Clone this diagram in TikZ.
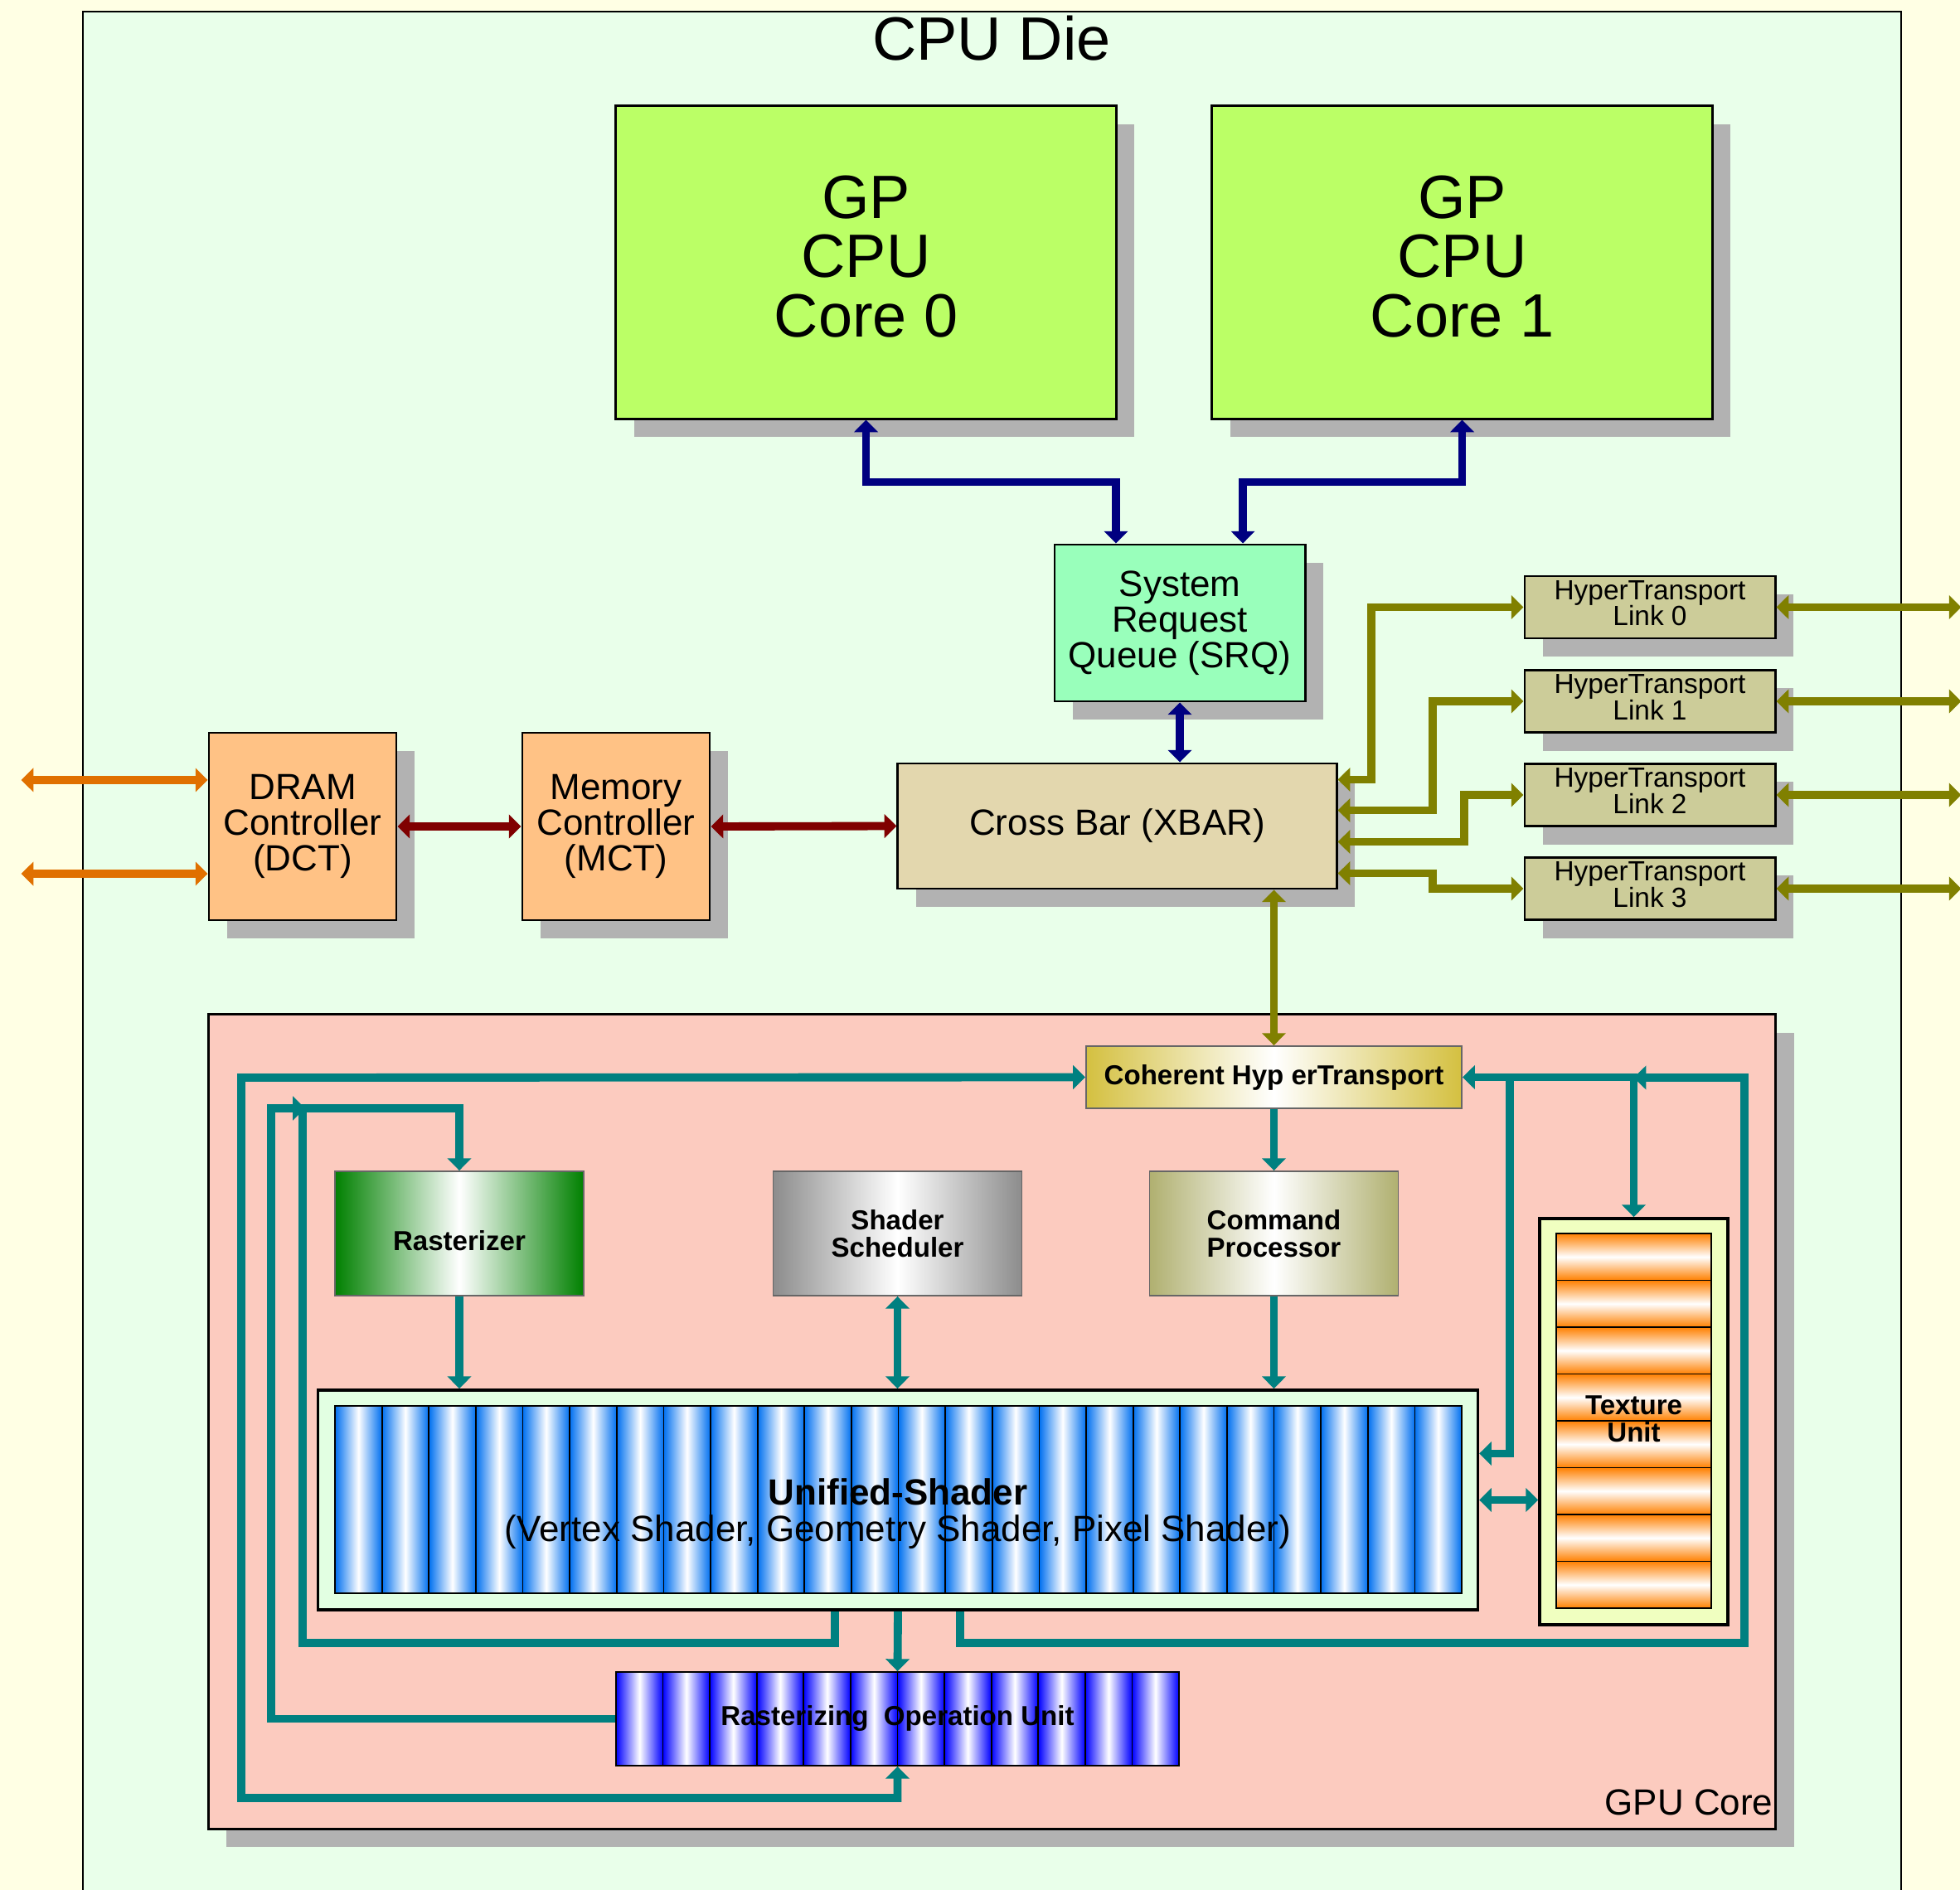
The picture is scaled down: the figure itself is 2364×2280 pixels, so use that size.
\documentclass[tikz,border=0pt]{standalone}
\usepackage{fontspec}
\setmainfont{Liberation Sans}
\usetikzlibrary{arrows.meta, shadows}

\definecolor{bgyellow}{HTML}{FFFFE4}
\definecolor{diegreen}{HTML}{E9FFEA}
\definecolor{corelime}{HTML}{BBFF66}
\definecolor{srqgreen}{HTML}{99FFBB}
\definecolor{xbartan}{HTML}{E3D7AE}
\definecolor{memorange}{HTML}{FFC285}
\definecolor{htkhaki}{HTML}{CCCC99}
\definecolor{gpusalmon}{HTML}{FCCBBF}
\definecolor{shadowgray}{HTML}{B2B2B2}
\definecolor{ushbg}{HTML}{E2FFE2}
\definecolor{texbg}{HTML}{F0FFC0}
\definecolor{texorange}{HTML}{FF8000}
\definecolor{shblue}{HTML}{0070F0}
\definecolor{ropblue}{HTML}{0000FF}
\definecolor{rastgreen}{HTML}{008000}
\definecolor{schedgray}{HTML}{8C8C8C}
\definecolor{cmdolive}{HTML}{B0B070}
\definecolor{chtgold}{HTML}{D4C040}
\definecolor{linknavy}{HTML}{000080}
\definecolor{linkolive}{HTML}{808000}
\definecolor{linkred}{HTML}{800000}
\definecolor{linkorange}{HTML}{E07000}
\definecolor{linkteal}{HTML}{008080}

\newcommand{\corefont}{\fontsize{21}{20.4}\selectfont}
\newcommand{\blockfont}{\fontsize{12.5}{12.3}\selectfont}
\newcommand{\htfont}{\fontsize{9.5}{9}\selectfont}
\newcommand{\unitlabelfont}{\bfseries\fontsize{9.4}{9.4}\selectfont}

\begin{document}
\begin{tikzpicture}[
  x=0.01cm, y=-0.01cm,
  box/.style      = {draw, line width=0.8pt, align=center, inner sep=1pt},
  shadowed/.style = {drop shadow={shadow xshift=0.22cm, shadow yshift=-0.22cm,
                     opacity=1, fill=shadowgray}},
  corebox/.style  = {box, shadowed, fill=corelime, font=\corefont, text depth=0.15cm,
                     minimum width=6.03cm, minimum height=3.77cm},
  htbox/.style    = {box, shadowed, fill=htkhaki, font=\htfont, text depth=0.1cm,
                     minimum width=3.02cm, minimum height=0.75cm},
  unitbox/.style  = {draw=black!60, line width=0.5pt, align=center, inner sep=1pt,
                     font=\unitlabelfont, minimum width=3.0cm, minimum height=1.5cm},
  ustrip/.style   = {draw, line width=0.5pt, left color=shblue, right color=shblue,
                     middle color=white},
  rstrip/.style   = {draw, line width=0.5pt, left color=ropblue, right color=ropblue,
                     middle color=white},
  tstrip/.style   = {draw, line width=0.5pt, top color=texorange, bottom color=texorange,
                     middle color=white},
  wire/.style     = {line width=2.8pt, -{Triangle[width=8pt, length=4.2pt]}},
  biwire/.style   = {line width=2.8pt,
                     {Triangle[width=8pt, length=4.2pt]}-{Triangle[width=8pt, length=4.2pt]}}
]

%--------------------------------------------------
% Page and die
%--------------------------------------------------
\useasboundingbox (0,0) rectangle (2364,2280);
\fill[bgyellow] (0,0) rectangle (2364,2280);
\draw[fill=diegreen, line width=0.8pt] (100,14) rectangle (2293,2320);
\node[font=\corefont, anchor=base] (dielabel) at (1196,73) {CPU Die};

%--------------------------------------------------
% CPU side blocks
%--------------------------------------------------
\node[corebox] (core0) at (1044.5,316.5) {GP\\CPU\\Core 0};
\node[corebox] (core1) at (1763.5,316.5) {GP\\CPU\\Core 1};

\node[box, shadowed, fill=srqgreen, font=\blockfont,
      minimum width=3.02cm, minimum height=1.89cm] (srq) at (1423,751.5)
  {System\\Request\\Queue (SRQ)};

\node[box, shadowed, fill=xbartan, font=\blockfont,
      minimum width=5.29cm, minimum height=1.51cm] (xbar) at (1347.5,996.5)
  {Cross Bar (XBAR)};

\node[box, shadowed, fill=memorange, font=\blockfont,
      minimum width=2.26cm, minimum height=2.26cm] (dct) at (365,997)
  {DRAM\\Controller\\(DCT)};
\node[box, shadowed, fill=memorange, font=\blockfont,
      minimum width=2.26cm, minimum height=2.26cm] (mct) at (743,997)
  {Memory\\Controller\\(MCT)};

% HyperTransport links
\foreach \k/\y in {0/732.5, 1/846, 2/959, 3/1072}
  \node[htbox] (ht\k) at (1990,\y) {HyperTransport\\Link \k};

%--------------------------------------------------
% GPU core
%--------------------------------------------------
\node[box, shadowed, fill=gpusalmon,
      minimum width=18.89cm, minimum height=9.82cm] (gpu) at (1196.5,1715) {};
\node[font=\blockfont, anchor=base east, inner sep=0pt] (gpulabel) at (2139,2189) {GPU Core};

\node[unitbox, left color=chtgold, right color=chtgold, middle color=white,
      minimum width=4.53cm, minimum height=0.75cm] (cht) at (1536.5,1299.5)
  {Coherent Hyp erTransport};

\node[unitbox, left color=rastgreen, right color=rastgreen, middle color=white,
      text height=0.42cm] (rast) at (554,1488) {Rasterizer};
\node[unitbox, left color=schedgray, right color=schedgray, middle color=white]
  (sched) at (1082.5,1488) {Shader\\Scheduler};
\node[unitbox, left color=cmdolive, right color=cmdolive, middle color=white]
  (cmdp) at (1536.5,1488) {Command\\Processor};

% unified shader array
\node[draw, line width=1pt, fill=ushbg,
      minimum width=13.98cm, minimum height=2.65cm] (ushader) at (1083,1809.5) {};
\foreach \i in {0,...,23}
  \draw[ustrip] ({404+\i*56.625},1696) rectangle ++(56.625,226);
\node[align=center, font=\blockfont] (ushlabel) at (1083,1826)
  {{\bfseries Unified-Shader}\\(Vertex Shader, Geometry Shader, Pixel Shader)};

% texture unit
\node[draw, line width=1pt, fill=texbg,
      minimum width=2.27cm, minimum height=4.90cm] (tex) at (1970.5,1715) {};
\foreach \i in {0,...,7}
  \draw[tstrip] (1877,{1488+\i*56.5}) rectangle ++(187,56.5);
\node[align=center, font=\unitlabelfont] (texlabel) at (1970.5,1712) {Texture\\Unit};

% rasterizing operation unit
\foreach \i in {0,...,11}
  \draw[rstrip] ({743+\i*56.58},2017) rectangle ++(56.58,113);
\node[draw, line width=0.5pt, font=\unitlabelfont,
      minimum width=6.79cm, minimum height=1.13cm] (rop) at (1082.5,2073.5)
  {Rasterizing\ \ Operation Unit};

%--------------------------------------------------
% Bus corners
%--------------------------------------------------
\coordinate (busL) at (291,1300);
\coordinate (busR) at (327,1337);
\coordinate (busU) at (365,1337);
\coordinate (busE) at (2104,1300);
\coordinate (busF) at (1821,1300);

%--------------------------------------------------
% Connections
%--------------------------------------------------

% cores <-> SRQ <-> XBAR
\draw[biwire, linknavy] (core0.south) -- ++(0,75) -| ([xshift=-0.77cm]srq.north);
\draw[biwire, linknavy] (core1.south) -- ++(0,75) -| ([xshift=0.76cm]srq.north);
\draw[biwire, linknavy] (srq.south) -- (srq.south |- xbar.north);

% XBAR <-> HyperTransport links
\draw[biwire, linkolive] ([yshift=0.56cm]xbar.east) -- ++(40,0) |- (ht0.west);
\draw[biwire, linkolive] ([yshift=0.19cm]xbar.east) -- ++(114,0) |- (ht1.west);
\draw[biwire, linkolive] ([yshift=-0.19cm]xbar.east) -- ++(152,0) |- (ht2.west);
\draw[biwire, linkolive] ([yshift=-0.57cm]xbar.east) -- ++(114,0) |- (ht3.west);
\foreach \k in {0,...,3}
  \draw[biwire, linkolive] (ht\k.east) -- ++(223,0);

% XBAR <-> GPU
\draw[biwire, linkolive] (cht.north |- xbar.south) -- (cht.north);

% memory path
\draw[biwire, linkred] (dct.east) -- (mct.west);
\draw[biwire, linkred] (mct.east) -- (xbar.west);
\draw[biwire, linkorange] ([yshift=0.56cm]dct.west) -- ++(-225,0);
\draw[biwire, linkorange] ([yshift=-0.57cm]dct.west) -- ++(-225,0);

% inside the GPU
\draw[wire, linkteal] (cht.south) -- (cmdp.north);
\draw[wire, linkteal] (cmdp.south) -- (cmdp.south |- ushader.north);
\draw[biwire, linkteal] (sched.south) -- (sched.south |- ushader.north);
\draw[wire, linkteal] (rast.south) -- (rast.south |- ushader.north);
\draw[wire, linkteal] (ushader.south) -- (rop.north);

\draw[biwire, linkteal] (rop.south) -- ++(0,38) -| (busL) -- (cht.west);
\draw[wire, linkteal] (rop.west) -| (busR) -| (rast.north);
\draw[wire, linkteal] ([xshift=-0.76cm]ushader.south) -- ++(0,38) -| (busU) -- ++(3,0);
\draw[wire, linkteal] ([xshift=0.75cm]ushader.south) -- ++(0,38) -| (busE)
  -- (tex.north |- busE);
\draw[biwire, linkteal] (cht.east) -| (tex.north);
\draw[wire, linkteal] (busF) |- ([yshift=0.56cm]ushader.east);
\draw[biwire, linkteal] (ushader.east) -- (ushader.east -| tex.west);

\end{tikzpicture}
\end{document}
